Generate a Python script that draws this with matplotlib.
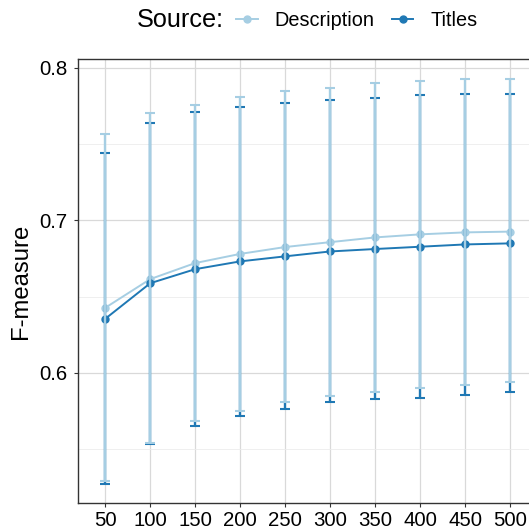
import numpy as np
import matplotlib
matplotlib.use("Agg")
import matplotlib.pyplot as plt
from matplotlib.lines import Line2D

plt.rcParams['font.family'] = ['Liberation Sans', 'DejaVu Sans']

# data
n_features = [50, 100, 150, 200, 250, 300, 350, 400, 450, 500]

desc_mean = [0.6427, 0.6615, 0.6720, 0.6780, 0.6825, 0.6857, 0.6888, 0.6908, 0.6921, 0.6926]
desc_upper = [0.7563, 0.7703, 0.7757, 0.7806, 0.7845, 0.7869, 0.7902, 0.7915, 0.7926, 0.7926]
desc_lower = [0.5293, 0.5540, 0.5682, 0.5752, 0.5807, 0.5851, 0.5873, 0.5901, 0.5921, 0.5938]

titles_mean = [0.6355, 0.6588, 0.6680, 0.6731, 0.6764, 0.6796, 0.6812, 0.6827, 0.6842, 0.6849]
titles_upper = [0.7444, 0.7639, 0.7711, 0.7744, 0.7766, 0.7788, 0.7803, 0.7823, 0.7829, 0.7825]
titles_lower = [0.5271, 0.5535, 0.5654, 0.5718, 0.5764, 0.5809, 0.5827, 0.5836, 0.5858, 0.5877]

light = "#a6cee3"
dark = "#1f78b4"

W, H = 529, 531
fig = plt.figure(figsize=(W / 100, H / 100), dpi=100)
ax = fig.add_axes([78.3 / W, 1 - 503.3 / H, 1 - 78.3 / W, (503.3 - 59.3) / H])

x = np.array(n_features)

def errbars(mean, lo, hi, color, z):
    mean = np.array(mean)
    yerr = [mean - np.array(lo), np.array(hi) - mean]
    ax.errorbar(x, mean, yerr=yerr, fmt="none", ecolor=color, elinewidth=1.7,
                capsize=3.6, capthick=1.5, zorder=z)

ax.plot(x, desc_mean, color=light, lw=1.4, marker="o", ms=5, zorder=3)
ax.plot(x, titles_mean, color=dark, lw=1.4, marker="o", ms=5, zorder=4)
errbars(titles_mean, titles_lower, titles_upper, dark, 5)
errbars(desc_mean, desc_lower, desc_upper, light, 6)

ax.set_xlim(20, 521.1)
ax.set_ylim(0.5146, 0.8055)
ax.set_xticks(n_features)
ax.set_yticks([0.6, 0.7, 0.8])
ax.set_yticks([0.55, 0.65, 0.75], minor=True)
ax.grid(True, which="major", color="#d9d9d9", lw=0.9)
ax.grid(True, which="minor", axis="y", color="#ececec", lw=0.6)
ax.set_axisbelow(True)
ax.tick_params(axis="both", which="major", labelsize=14.7, length=3, width=0.8,
               color="#333333", labelcolor="black")
ax.tick_params(axis="x", pad=2.5)
ax.tick_params(axis="y", pad=5)
ax.tick_params(which="minor", length=0)
ax.set_yticklabels(["0.6", "0.7", "0.8"])

for s in ["left", "bottom", "top"]:
    ax.spines[s].set_color("#333333")
    ax.spines[s].set_linewidth(1.0)
ax.spines["right"].set_visible(False)

ax.set_ylabel("F-measure", fontsize=17.2, labelpad=5)

fig.text(137 / W, 1 - 20 / H, "Source:", fontsize=18.2, va="center", ha="left")
handles = [Line2D([], [], color=light, lw=1.4, marker="o", ms=5),
           Line2D([], [], color=dark, lw=1.4, marker="o", ms=5)]
fig.legend(handles, ["Description", "Titles"], loc="center left",
           bbox_to_anchor=(236 / W, 1 - 20 / H), ncol=2, frameon=False,
           fontsize=14.3, handlelength=1.1, handletextpad=0.85,
           columnspacing=0.85, borderpad=0, borderaxespad=0)

fig.savefig("out.png", dpi=100)
